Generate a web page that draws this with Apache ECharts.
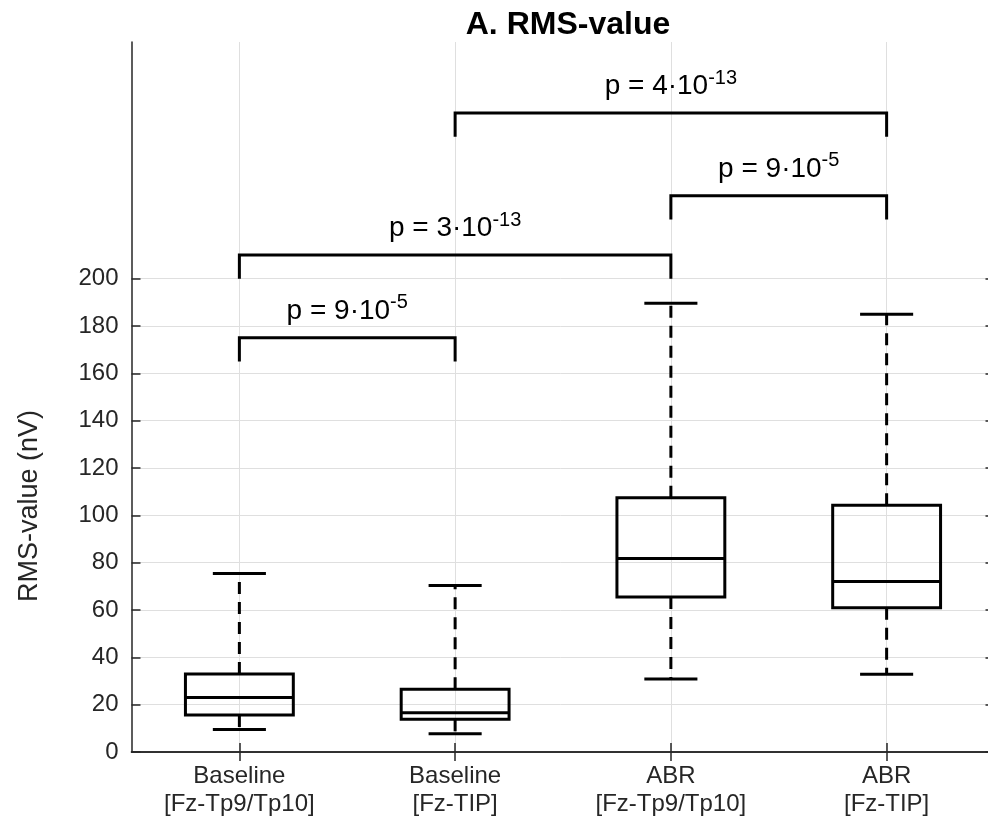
<!DOCTYPE html>
<html>
<head>
<meta charset="utf-8">
<script src="https://cdn.jsdelivr.net/npm/echarts@6/dist/echarts.min.js"></script>
<style>
  html, body { margin: 0; padding: 0; background: #fff; }
  #main { width: 988px; height: 825px; }
</style>
</head>
<body>
<div id="main"></div>
<script>
// 分组名称（两行）
const categories = ['Baseline\n[Fz-Tp9/Tp10]', 'Baseline\n[Fz-TIP]', 'ABR\n[Fz-Tp9/Tp10]', 'ABR\n[Fz-TIP]'];

// 箱线图数值（nV）
const whiskerLow = [9.5, 7.7, 30.8, 32.8];
const q1 = [15.6, 13.8, 65.5, 61.0];
const median = [23.0, 16.6, 81.8, 72.0];
const q3 = [33.0, 26.5, 107.4, 104.3];
const whiskerHigh = [75.4, 70.4, 189.6, 185.0];

// 显著性括号
const bracketFrom = [0, 0, 2, 1];
const bracketTo = [1, 2, 3, 3];
const bracketTop = [175, 210, 235, 270];
const bracketLeg = [165, 200, 225, 260];
const pMantissa = ['9', '3', '9', '4'];
const pExponent = ['-5', '-13', '-5', '-13'];

// y 轴刻度（只显示到 200）
const yTicks = [0, 20, 40, 60, 80, 100, 120, 140, 160, 180, 200];

const FONT = '"Liberation Sans", Arial, Helvetica, sans-serif';
const AXIS_COLOR = '#262626';
const GRID_COLOR = '#dfdfdf';

const chart = echarts.init(document.getElementById('main'), null, { renderer: 'canvas' });

const boxData = categories.map((c, i) => [i, whiskerLow[i], q1[i], median[i], q3[i], whiskerHigh[i]]);
const bracketData = bracketFrom.map((f, i) => [f, bracketTo[i], bracketTop[i], bracketLeg[i], pMantissa[i], pExponent[i]]);

function renderBox(params, api) {
  const x = api.value(0);
  const band = api.size([1, 0])[0];
  const hw = band * 0.25;
  const capW = band * 0.123;
  const cx = api.coord([x, 0])[0];
  const yMin = api.coord([x, api.value(1)])[1];
  const yQ1 = api.coord([x, api.value(2)])[1];
  const yMed = api.coord([x, api.value(3)])[1];
  const yQ3 = api.coord([x, api.value(4)])[1];
  const yMax = api.coord([x, api.value(5)])[1];
  const solid = { stroke: '#000', lineWidth: 3, fill: null };
  const dashed = { stroke: '#000', lineWidth: 3, lineDash: [12, 8], fill: null };
  return {
    type: 'group',
    children: [
      { type: 'line', shape: { x1: cx, y1: yQ3, x2: cx, y2: yMax }, style: dashed },
      { type: 'line', shape: { x1: cx, y1: yQ1, x2: cx, y2: yMin }, style: dashed },
      { type: 'line', shape: { x1: cx - capW, y1: yMax, x2: cx + capW, y2: yMax }, style: solid },
      { type: 'line', shape: { x1: cx - capW, y1: yMin, x2: cx + capW, y2: yMin }, style: solid },
      { type: 'rect', shape: { x: cx - hw, y: yQ3, width: hw * 2, height: yQ1 - yQ3 }, style: { stroke: '#000', lineWidth: 3, fill: 'rgba(255,255,255,0)' } },
      { type: 'line', shape: { x1: cx - hw, y1: yMed, x2: cx + hw, y2: yMed }, style: solid }
    ]
  };
}

function renderBracket(params, api) {
  const a = api.coord([api.value(0), api.value(2)]);
  const b = api.coord([api.value(1), api.value(2)]);
  const legY = api.coord([api.value(0), api.value(3)])[1];
  const mant = bracketData[params.dataIndex][4];
  const expo = bracketData[params.dataIndex][5];
  return {
    type: 'group',
    children: [
      {
        type: 'polyline',
        shape: { points: [[a[0], legY], [a[0], a[1]], [b[0], b[1]], [b[0], legY]] },
        style: { stroke: '#000', lineWidth: 3, fill: null }
      },
      {
        type: 'text',
        x: (a[0] + b[0]) / 2,
        y: a[1] - 9,
        style: {
          text: '{b|p = ' + mant + '·10}{s|' + expo + '}',
          align: 'center',
          verticalAlign: 'bottom',
          fill: '#000',
          rich: {
            b: { fontSize: 28, fontFamily: FONT, lineHeight: 36, fill: '#000' },
            s: { fontSize: 20, fontFamily: FONT, lineHeight: 14, verticalAlign: 'top', fill: '#000' }
          }
        }
      }
    ]
  };
}

const option = {
  animation: false,
  backgroundColor: '#fff',
  title: {
    text: 'A. RMS-value',
    left: 563,
    top: 4,
    textAlign: 'center',
    textStyle: { fontFamily: FONT, fontSize: 32, fontWeight: 'bold', color: '#000' }
  },
  graphic: [{
    type: 'text',
    x: 30,
    y: 506,
    rotation: Math.PI / 2,
    style: {
      text: 'RMS-value (nV)',
      font: '27px ' + FONT,
      fill: AXIS_COLOR,
      align: 'center',
      verticalAlign: 'middle'
    }
  }],
  grid: { left: 131.5, top: 42, width: 863, height: 710, containLabel: false, outerBoundsMode: 'none' },
  xAxis: [{
    type: 'category',
    data: categories,
    boundaryGap: true,
    axisLine: { show: true, lineStyle: { color: AXIS_COLOR, width: 1.5 } },
    axisTick: { show: true, inside: true, alignWithLabel: true, length: 9, lineStyle: { color: AXIS_COLOR, width: 1.5 } },
    axisLabel: { fontFamily: FONT, fontSize: 24, color: AXIS_COLOR, lineHeight: 28, margin: 10 },
    splitLine: { show: false }
  }, {
    type: 'category',
    data: categories,
    position: 'top',
    boundaryGap: true,
    axisLine: { show: true, lineStyle: { color: AXIS_COLOR, width: 1.5 } },
    axisTick: { show: true, inside: true, alignWithLabel: true, length: 9, lineStyle: { color: AXIS_COLOR, width: 1.5 } },
    axisLabel: { show: false },
    splitLine: { show: false }
  }],
  yAxis: [{
    type: 'value',
    min: 0,
    max: 300,
    interval: 20,
    axisLine: { show: true, lineStyle: { color: AXIS_COLOR, width: 1.5 } },
    axisTick: { show: true, inside: true, length: 9, customValues: yTicks, lineStyle: { color: AXIS_COLOR, width: 1.5 } },
    axisLabel: { fontFamily: FONT, fontSize: 24, color: AXIS_COLOR, margin: 13, customValues: yTicks },
    splitLine: { show: false }
  }, {
    type: 'value',
    position: 'right',
    min: 0,
    max: 300,
    interval: 20,
    axisLine: { show: true, lineStyle: { color: AXIS_COLOR, width: 1.5 } },
    axisTick: { show: true, inside: true, length: 9, customValues: yTicks, lineStyle: { color: AXIS_COLOR, width: 1.5 } },
    axisLabel: { show: false },
    splitLine: { show: false }
  }],
  series: [{
    // 网格线（放在最底层）
    type: 'line',
    data: [],
    silent: true,
    z: 0,
    markLine: {
      z: 0,
      silent: true,
      symbol: 'none',
      label: { show: false },
      emphasis: { disabled: true },
      lineStyle: { color: GRID_COLOR, width: 1, type: 'solid' },
      data: yTicks.map(v => ({ yAxis: v })).concat(categories.map((c, i) => ({ xAxis: i })))
    }
  }, {
    type: 'custom',
    name: 'box',
    data: boxData,
    z: 10,
    silent: true,
    encode: { x: 0, y: [1, 2, 3, 4, 5] },
    renderItem: renderBox
  }, {
    type: 'custom',
    name: 'bracket',
    data: bracketData,
    z: 11,
    silent: true,
    encode: { x: [0, 1], y: [2, 3] },
    renderItem: renderBracket
  }]
};

chart.setOption(option);
</script>
</body>
</html>
